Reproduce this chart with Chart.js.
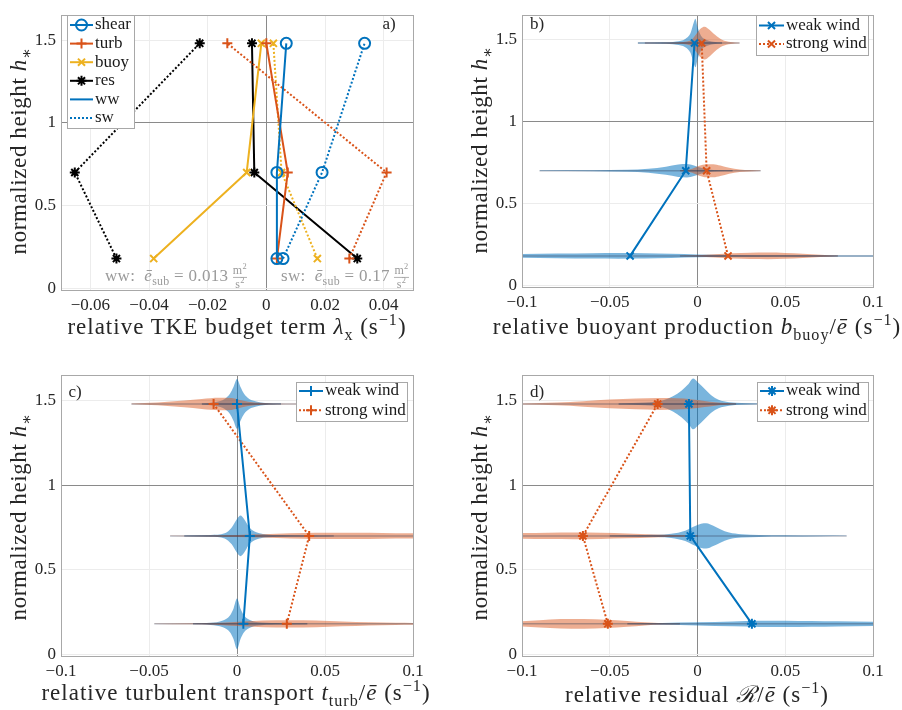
<!DOCTYPE html>
<html>
<head>
<meta charset="utf-8">
<script src="https://cdn.jsdelivr.net/npm/chart.js@4/dist/chart.umd.min.js"></script>
<style>
  body { margin: 0; background: #fff; }
  #fig { position: relative; width: 902px; height: 710px; overflow: hidden;
         font-family: "Liberation Serif", "DejaVu Serif", serif; color: #262626; }
  canvas { position: absolute; }
  .lab { position: absolute; transform: translate(-50%, -50%); white-space: nowrap; font-size: 23px; letter-spacing: 1px; }
  .rot { transform: translate(-50%, -50%) rotate(-90deg); letter-spacing: 0.6px; }
  .tag { position: absolute; transform: translate(-50%, -50%); font-size: 17px; }
  .note { position: absolute; transform: translateY(-50%); white-space: nowrap; font-size: 17px; color: #9a9a9a; letter-spacing: 0.3px; }
  sub, sup { font-size: 70%; line-height: 0; }
  .frac { display: inline-block; vertical-align: middle; text-align: center; font-size: 12px; line-height: 1.05; }
  .frac span { display: block; }
  .frac .num { border-bottom: 1px solid #b0b0b0; }
</style>
</head>
<body>
<div id="fig">
  <canvas id="ca" width="440" height="345" style="left:0;top:0"></canvas>
  <canvas id="cb" width="440" height="345" style="left:450px;top:0"></canvas>
  <canvas id="cc" width="440" height="345" style="left:0;top:360px"></canvas>
  <canvas id="cd" width="440" height="345" style="left:450px;top:360px"></canvas>

  <div class="lab" style="left:237px;top:327px">relative TKE budget term <i>λ</i><sub>x</sub> (s<sup>−1</sup>)</div>
  <div class="lab" style="left:697px;top:327px">relative buoyant production <i>b</i><sub>buoy</sub>/<i>ē</i> (s<sup>−1</sup>)</div>
  <div class="lab" style="left:236px;top:693px">relative turbulent transport <i>t</i><sub>turb</sub>/<i>ē</i> (s<sup>−1</sup>)</div>
  <div class="lab" style="left:697px;top:693px">relative residual <i>ℛ</i>/<i>ē</i> (s<sup>−1</sup>)</div>

  <div class="lab rot" style="left:19px;top:151px">normalized height <i>h</i><sub>∗</sub></div>
  <div class="lab rot" style="left:480px;top:150px">normalized height <i>h</i><sub>∗</sub></div>
  <div class="lab rot" style="left:19px;top:517px">normalized height <i>h</i><sub>∗</sub></div>
  <div class="lab rot" style="left:480px;top:517px">normalized height <i>h</i><sub>∗</sub></div>

  <div class="tag" style="left:389px;top:24px">a)</div>
  <div class="tag" style="left:537px;top:24px">b)</div>
  <div class="tag" style="left:75px;top:392px">c)</div>
  <div class="tag" style="left:537px;top:392px">d)</div>

  <div class="note" style="left:105px;top:277px">ww:&nbsp; <i>ē</i><sub>sub</sub> = 0.013 <span class="frac"><span class="num">m<sup>2</sup></span><span>s<sup>2</sup></span></span></div>
  <div class="note" style="left:281px;top:277px">sw:&nbsp; <i>ē</i><sub>sub</sub> = 0.17 <span class="frac"><span class="num">m<sup>2</sup></span><span>s<sup>2</sup></span></span></div>
</div>

<script>
// normalized heights of the three measurement levels
const heights = [0.18, 0.70, 1.48];

// relative budget terms (s^-1), ww = weak wind, sw = strong wind
const shearWW = [0.0036, 0.0036, 0.0068];
const shearSW = [0.0057, 0.019, 0.0335];
const turbWW = [0.0036, 0.0073, 0.0];
const turbSW = [0.0283, 0.041, -0.0133];
const buoyWW = [-0.0384, -0.0067, -0.0017];
const buoySW = [0.0174, 0.0052, 0.0024];
const resWW = [0.031, -0.0041, -0.0049];
const resSW = [-0.0511, -0.0653, -0.0227];

const yTicks = [0, 0.5, 1, 1.5];
const xTicksA = [-0.06, -0.04, -0.02, 0, 0.02, 0.04];
const xTicksRel = [-0.1, -0.05, 0, 0.05, 0.1];

// violin outlines per height: [x, half thickness in h*]
const buoyWeakViolins = [
  [[-0.1, 0.012], [-0.08, 0.014], [-0.06, 0.016], [-0.045, 0.017], [-0.03, 0.016], [-0.015, 0.013], [0, 0.009], [0.02, 0.006], [0.05, 0.004], [0.08, 0.003], [0.1, 0.003]],
  [[-0.09, 0.002], [-0.06, 0.003], [-0.04, 0.006], [-0.028, 0.012], [-0.018, 0.025], [-0.011, 0.038], [-0.006, 0.041], [-0.002, 0.032], [0.002, 0.018], [0.006, 0.008], [0.012, 0.003], [0.02, 0.001]],
  [[-0.034, 0.003], [-0.02, 0.005], [-0.012, 0.01], [-0.007, 0.025], [-0.004, 0.06], [-0.002, 0.13], [-0.0012, 0.148], [0, 0.1], [0.002, 0.045], [0.005, 0.02], [0.009, 0.008], [0.014, 0.003]]
];
const buoyStrongViolins = [
  [[-0.01, 0.001], [0, 0.004], [0.01, 0.01], [0.02, 0.016], [0.03, 0.019], [0.04, 0.02], [0.05, 0.018], [0.06, 0.013], [0.07, 0.007], [0.08, 0.002]],
  [[-0.01, 0.002], [-0.003, 0.012], [0.001, 0.03], [0.005, 0.04], [0.009, 0.04], [0.013, 0.032], [0.018, 0.018], [0.024, 0.008], [0.03, 0.004], [0.036, 0.001]],
  [[-0.03, 0.002], [-0.012, 0.004], [-0.004, 0.015], [-0.001, 0.05], [0.002, 0.09], [0.004, 0.1], [0.007, 0.08], [0.01, 0.05], [0.014, 0.02], [0.019, 0.006], [0.024, 0.002]]
];
const turbWeakViolins = [
  [[-0.025, 0.002], [-0.015, 0.006], [-0.008, 0.02], [-0.004, 0.05], [-0.002, 0.09], [0, 0.15], [0.002, 0.09], [0.004, 0.05], [0.008, 0.02], [0.014, 0.008], [0.025, 0.004], [0.04, 0.002]],
  [[-0.03, 0.002], [-0.015, 0.005], [-0.007, 0.015], [-0.003, 0.05], [0, 0.1], [0.002, 0.12], [0.004, 0.1], [0.007, 0.05], [0.011, 0.022], [0.016, 0.01], [0.025, 0.005], [0.04, 0.003], [0.055, 0.001]],
  [[-0.02, 0.003], [-0.012, 0.012], [-0.007, 0.03], [-0.004, 0.06], [-0.002, 0.1], [0, 0.148], [0.002, 0.1], [0.004, 0.06], [0.007, 0.03], [0.011, 0.015], [0.016, 0.006], [0.025, 0.002]]
];
const turbStrongViolins = [
  [[-0.047, 0.001], [-0.025, 0.003], [-0.01, 0.006], [0.003, 0.014], [0.015, 0.02], [0.03, 0.022], [0.045, 0.02], [0.06, 0.014], [0.075, 0.009], [0.09, 0.006], [0.1, 0.005]],
  [[-0.038, 0.001], [-0.02, 0.003], [0, 0.006], [0.015, 0.01], [0.03, 0.015], [0.045, 0.018], [0.06, 0.019], [0.075, 0.018], [0.09, 0.016], [0.1, 0.015]],
  [[-0.06, 0.002], [-0.045, 0.008], [-0.03, 0.02], [-0.02, 0.03], [-0.01, 0.037], [-0.003, 0.035], [0.003, 0.02], [0.01, 0.008], [0.02, 0.003], [0.035, 0.001]]
];
const resWeakViolins = [
  [[-0.04, 0.002], [-0.02, 0.005], [0, 0.009], [0.02, 0.014], [0.035, 0.018], [0.05, 0.019], [0.065, 0.017], [0.08, 0.015], [0.1, 0.013]],
  [[-0.05, 0.002], [-0.03, 0.005], [-0.015, 0.012], [-0.007, 0.03], [-0.002, 0.055], [0.002, 0.072], [0.005, 0.075], [0.009, 0.06], [0.013, 0.04], [0.018, 0.02], [0.025, 0.01], [0.035, 0.006], [0.05, 0.004], [0.07, 0.002], [0.085, 0.001]],
  [[-0.045, 0.003], [-0.03, 0.008], [-0.02, 0.02], [-0.014, 0.045], [-0.009, 0.08], [-0.005, 0.12], [-0.0025, 0.15], [0, 0.13], [0.004, 0.09], [0.008, 0.05], [0.012, 0.025], [0.018, 0.01], [0.025, 0.005], [0.035, 0.002]]
];
const resStrongViolins = [
  [[-0.1, 0.015], [-0.09, 0.022], [-0.078, 0.028], [-0.065, 0.029], [-0.052, 0.025], [-0.04, 0.017], [-0.03, 0.009], [-0.02, 0.004], [-0.01, 0.002]],
  [[-0.1, 0.017], [-0.085, 0.019], [-0.07, 0.02], [-0.055, 0.018], [-0.04, 0.014], [-0.025, 0.009], [-0.012, 0.005], [0, 0.002]],
  [[-0.1, 0.003], [-0.08, 0.008], [-0.065, 0.016], [-0.05, 0.026], [-0.035, 0.032], [-0.022, 0.035], [-0.012, 0.033], [-0.004, 0.028], [0.004, 0.018], [0.01, 0.01], [0.016, 0.005], [0.022, 0.002]]
];

const BLUE = '#0072BD', ORANGE = '#D95319', YELLOW = '#EDB120', BLACK = '#000000';
const BLUE_FILL = 'rgba(0,114,189,0.52)', ORANGE_FILL = 'rgba(217,83,25,0.48)';
const FONT = '"Liberation Serif", "DejaVu Serif", serif';

function series(vals, color, marker, dotted) {
  return {
    data: vals.map((v, i) => ({ x: v, y: heights[i] })),
    borderColor: color, borderWidth: 2, borderDash: dotted ? [2, 2] : [],
    pointStyle: marker, pointRadius: marker === 'circle' ? 5.5 : 5, pointBorderWidth: 2,
    pointBorderColor: color, pointBackgroundColor: 'rgba(0,0,0,0)',
    fill: false, tension: 0
  };
}

function violins(profiles, fillColor) {
  const sets = [];
  profiles.forEach((prof, i) => {
    const h = heights[i];
    const common = { borderWidth: 0, borderColor: 'rgba(0,0,0,0)', pointRadius: 0, cubicInterpolationMode: 'monotone' };
    sets.push(Object.assign({ data: prof.map(p => ({ x: p[0], y: h + p[1] })), fill: false }, common));
    sets.push(Object.assign({ data: prof.map(p => ({ x: p[0], y: h - p[1] })), fill: '-1', backgroundColor: fillColor }, common));
  });
  return sets;
}

function centerLines(profiles) {
  return profiles.map((prof, i) => ({
    data: [{ x: prof[0][0], y: heights[i] }, { x: prof[prof.length - 1][0], y: heights[i] }],
    borderColor: 'rgba(45,60,85,0.35)', borderWidth: 1.5, pointRadius: 0, fill: false
  }));
}

const framePlugin = {
  id: 'frame',
  afterDraw(chart) {
    const { ctx, chartArea: a } = chart;
    ctx.save();
    ctx.strokeStyle = '#a8a8a8';
    ctx.lineWidth = 1;
    ctx.strokeRect(Math.round(a.left) + 0.5, Math.round(a.top) + 0.5, Math.round(a.width), Math.round(a.height));
    ctx.restore();
  }
};

function boxLegend(box, items) {
  return {
    id: 'boxLegend',
    afterDraw(chart) {
      const ctx = chart.ctx;
      ctx.save();
      ctx.fillStyle = '#fff';
      ctx.strokeStyle = '#a8a8a8';
      ctx.lineWidth = 1;
      ctx.fillRect(box.x, box.y, box.w, box.h);
      ctx.strokeRect(box.x + 0.5, box.y + 0.5, box.w, box.h);
      ctx.font = '17px ' + FONT;
      ctx.textBaseline = 'middle';
      items.forEach((it, i) => {
        const yy = box.y + box.first + i * box.step;
        ctx.strokeStyle = it.color;
        ctx.lineWidth = 2;
        ctx.setLineDash(it.dotted ? [2, 2] : []);
        ctx.beginPath();
        ctx.moveTo(box.x + 3, yy);
        ctx.lineTo(box.x + 3 + box.len, yy);
        ctx.stroke();
        ctx.setLineDash([]);
        if (it.marker && Chart.helpers && Chart.helpers.drawPoint) {
          ctx.fillStyle = 'rgba(0,0,0,0)';
          Chart.helpers.drawPoint(ctx, { pointStyle: it.marker, radius: it.marker === 'circle' ? 5.5 : 5, rotation: 0, borderWidth: 2 }, box.x + 3 + box.len / 2, yy);
        }
        ctx.fillStyle = '#1a1a1a';
        ctx.fillText(it.label, box.x + 5 + box.len, yy);
      });
      ctx.restore();
    }
  };
}

// tick labels with a true minus sign
const fmt = v => String(+(+v).toFixed(3)).replace('-', '\u2212');

function panel(id, o) {
  new Chart(document.getElementById(id), {
    type: 'line',
    data: { datasets: o.datasets },
    options: {
      animation: false, responsive: false, events: [],
      layout: { padding: { top: o.top, right: o.right, left: 0, bottom: 0 } },
      plugins: { legend: { display: false }, tooltip: { enabled: false } },
      scales: {
        x: {
          type: 'linear', min: o.xmin, max: o.xmax,
          afterBuildTicks: s => { s.ticks = o.xTicks.map(v => ({ value: v })); },
          afterFit: s => { s.height = o.xHeight; },
          ticks: { callback: fmt, font: { family: FONT, size: 17 }, color: '#262626', padding: 5, maxRotation: 0, autoSkip: false },
          grid: { drawTicks: false, color: c => (c.tick && c.tick.value === 0) ? '#8a8a8a' : '#ececec' },
          border: { display: false }
        },
        y: {
          type: 'linear', min: -0.01, max: 1.65,
          afterBuildTicks: s => { s.ticks = yTicks.map(v => ({ value: v })); },
          afterFit: s => { s.width = o.yWidth; },
          ticks: { callback: fmt, font: { family: FONT, size: 17 }, color: '#262626', padding: 5 },
          grid: { drawTicks: false, color: c => (c.tick && c.tick.value === 1) ? '#8a8a8a' : '#ececec' },
          border: { display: false }
        }
      }
    },
    plugins: [framePlugin, boxLegend(o.box, o.items)]
  });
}

function twoWind(weak, strong, weakV, strongV, marker) {
  return [
    series(weak, BLUE, marker, false),
    series(strong, ORANGE, marker, true),
    ...centerLines(strongV), ...centerLines(weakV),
    ...violins(strongV, ORANGE_FILL),
    ...violins(weakV, BLUE_FILL)
  ];
}

function windItems(marker) {
  return [
    { label: 'weak wind', color: BLUE, marker: marker },
    { label: 'strong wind', color: ORANGE, marker: marker, dotted: true }
  ];
}

panel('ca', {
  xmin: -0.07, xmax: 0.05, xTicks: xTicksA, yWidth: 61, xHeight: 55, top: 7, right: 27,
  datasets: [
    series(shearWW, BLUE, 'circle', false), series(shearSW, BLUE, 'circle', true),
    series(turbWW, ORANGE, 'cross', false), series(turbSW, ORANGE, 'cross', true),
    series(buoyWW, YELLOW, 'crossRot', false), series(buoySW, YELLOW, 'crossRot', true),
    series(resWW, BLACK, 'star', false), series(resSW, BLACK, 'star', true)
  ],
  box: { x: 67, y: 15, w: 67, h: 113, first: 10, step: 18.6, len: 23 },
  items: [
    { label: 'shear', color: BLUE, marker: 'circle' },
    { label: 'turb', color: ORANGE, marker: 'cross' },
    { label: 'buoy', color: YELLOW, marker: 'crossRot' },
    { label: 'res', color: BLACK, marker: 'star' },
    { label: 'ww', color: BLUE },
    { label: 'sw', color: BLUE, dotted: true }
  ]
});

panel('cb', {
  xmin: -0.1, xmax: 0.1, xTicks: xTicksRel, yWidth: 72, xHeight: 58, top: 7, right: 17,
  datasets: twoWind(buoyWW, buoySW, buoyWeakViolins, buoyStrongViolins, 'crossRot'),
  box: { x: 306, y: 15, w: 112, h: 40, first: 10.5, step: 18.5, len: 25 },
  items: windItems('crossRot')
});

panel('cc', {
  xmin: -0.1, xmax: 0.1, xTicks: xTicksRel, yWidth: 61, xHeight: 49, top: 14, right: 27,
  datasets: twoWind(turbWW, turbSW, turbWeakViolins, turbStrongViolins, 'cross'),
  box: { x: 296, y: 22, w: 111, h: 39, first: 9, step: 19.3, len: 24 },
  items: windItems('cross')
});

panel('cd', {
  xmin: -0.1, xmax: 0.1, xTicks: xTicksRel, yWidth: 72, xHeight: 49, top: 14, right: 17,
  datasets: twoWind(resWW, resSW, resWeakViolins, resStrongViolins, 'star'),
  box: { x: 307, y: 22, w: 111, h: 39, first: 9, step: 19.3, len: 24 },
  items: windItems('star')
});
</script>
</body>
</html>
